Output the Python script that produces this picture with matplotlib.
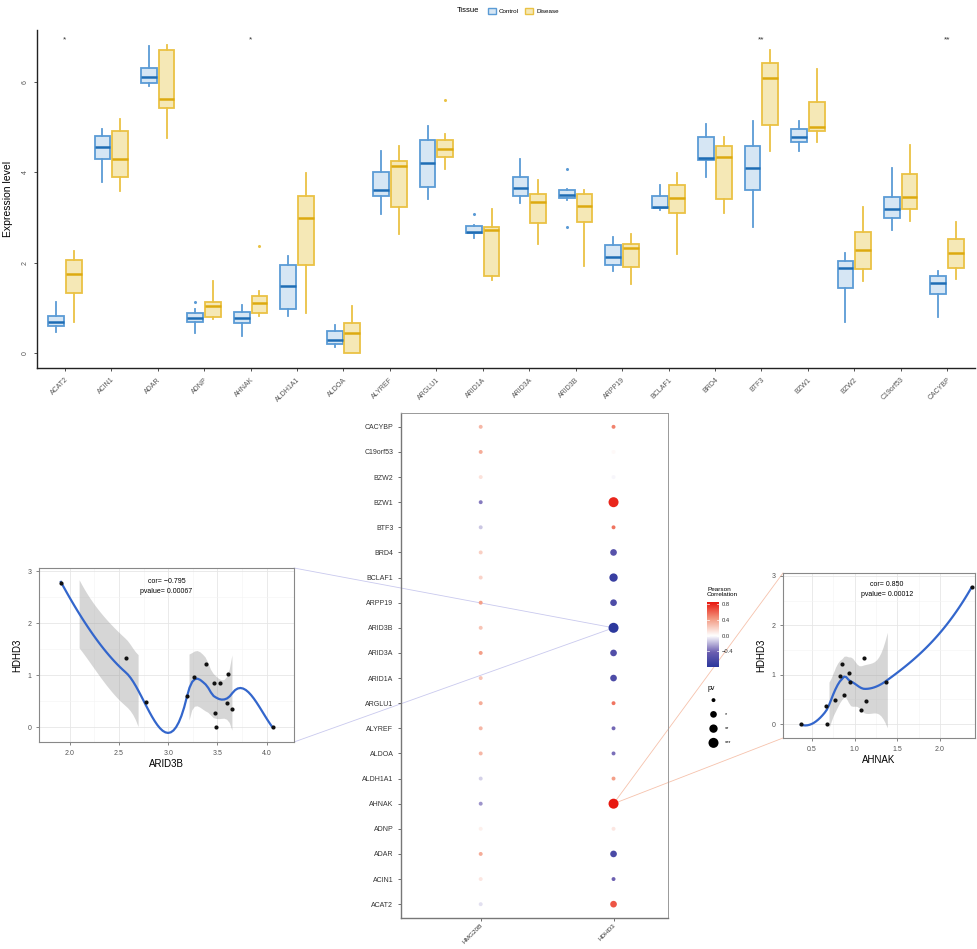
#%%
# boxplot + correlation dot plot + two scatter panels
import numpy as np
import matplotlib
matplotlib.use('Agg')
import matplotlib.pyplot as plt
from matplotlib.colors import LinearSegmentedColormap, Normalize
from matplotlib.patches import Patch, ConnectionPatch

plt.rcParams['font.family'] = ['Liberation Sans', 'DejaVu Sans']

#%%
# data
genes = ['ACAT2', 'ACIN1', 'ADAR', 'ADNP', 'AHNAK', 'ALDH1A1', 'ALDOA', 'ALYREF',
         'ARGLU1', 'ARID1A', 'ARID3A', 'ARID3B', 'ARPP19', 'BCLAF1', 'BRD4', 'BTF3',
         'BZW1', 'BZW2', 'C19orf53', 'CACYBP']

ctrl_whishi = [1.14, 4.97, 6.80, 0.97, 1.07, 2.15, 0.63, 4.47, 5.02, 2.83, 4.29, 3.64, 2.56, 3.71, 5.08, 5.13, 5.13, 2.21, 4.09, 1.82]
ctrl_q3 = [0.83, 4.80, 6.30, 0.88, 0.90, 1.96, 0.48, 4.01, 4.71, 2.82, 3.90, 3.60, 2.39, 3.47, 4.79, 4.58, 4.95, 2.04, 3.45, 1.71]
ctrl_med = [0.69, 4.57, 6.12, 0.78, 0.78, 1.48, 0.29, 3.61, 4.21, 2.69, 3.65, 3.50, 2.12, 3.23, 4.32, 4.10, 4.78, 1.89, 3.19, 1.54]
ctrl_q1 = [0.61, 4.29, 5.98, 0.69, 0.66, 0.97, 0.21, 3.48, 3.67, 2.66, 3.47, 3.44, 1.96, 3.20, 4.27, 3.61, 4.68, 1.45, 2.98, 1.31]
ctrl_whislo = [0.47, 3.79, 5.90, 0.45, 0.38, 0.83, 0.14, 3.07, 3.42, 2.55, 3.33, 3.39, 1.82, 3.17, 3.90, 2.80, 4.48, 0.69, 2.73, 0.80]
ctrl_fliers = {'ADNP': [1.14], 'ARID1A': [3.08], 'ARID3B': [4.07, 2.78]}

dis_whishi = [2.26, 5.17, 6.82, 1.60, 1.37, 3.98, 1.04, 4.58, 4.84, 3.18, 3.83, 3.61, 2.63, 3.99, 4.78, 6.71, 6.28, 3.23, 4.60, 2.90]
dis_q3 = [2.05, 4.91, 6.71, 1.14, 1.26, 3.47, 0.67, 4.24, 4.71, 2.80, 3.51, 3.53, 2.42, 3.73, 4.58, 6.41, 5.56, 2.69, 3.97, 2.52]
dis_med = [1.76, 4.29, 5.63, 1.04, 1.11, 2.98, 0.44, 4.15, 4.52, 2.72, 3.34, 3.26, 2.32, 3.43, 4.33, 6.09, 5.00, 2.28, 3.46, 2.21]
dis_q1 = [1.34, 3.90, 5.42, 0.80, 0.89, 1.96, 0.01, 3.24, 4.35, 1.71, 2.87, 2.89, 1.90, 3.09, 3.42, 5.05, 4.91, 1.86, 3.18, 1.88]
dis_whislo = [0.69, 3.58, 4.75, 0.76, 0.83, 0.89, 0.00, 2.63, 4.07, 1.61, 2.42, 1.92, 1.52, 2.19, 3.11, 4.48, 4.68, 1.60, 2.92, 1.64]
dis_fliers = {'AHNAK': [2.37], 'ARGLU1': [5.60]}

sig = ['*', '', '', '', '*', '', '', '', '', '', '', '', '', '', '', '**', '', '', '', '**']

# pearson correlation with HMG20B / HDHD3 (same gene order, bottom to top)
cor_hmg20b = [-0.08, 0.10, 0.35, 0.06, -0.28, -0.12, 0.30, 0.30, 0.35, 0.25, 0.40, 0.25, 0.40, 0.18, 0.20, -0.15, -0.35, 0.12, 0.35, 0.30]
cor_hdhd3 = [0.65, -0.42, -0.62, 0.10, 0.850, 0.40, -0.38, -0.40, 0.55, -0.60, -0.58, -0.795, -0.60, -0.72, -0.55, 0.55, 0.80, -0.02, 0.02, 0.50]
pv_hmg20b = [0] * 20
pv_hdhd3 = [1, 0, 1, 0, 3, 0, 0, 0, 0, 1, 1, 3, 1, 2, 1, 0, 3, 0, 0, 0]
pv_labels = ['', '*', '**', '***']
dot_cols = ['HMG20B', 'HDHD3']

# scatter data
hdhd3 = [2.77, 1.335, 0.49, 0.60, 0.965, 1.22, 0.856, 0.856, 1.03, 0.47, 0.36, 0.28, 0.0, 0.0]
arid3b = [1.91, 2.57, 2.77, 3.19, 3.26, 3.38, 3.46, 3.53, 3.61, 3.60, 3.65, 3.47, 3.48, 4.06]
ahnak = [2.37, 1.115, 0.77, 0.88, 0.825, 0.85, 0.93, 0.95, 1.13, 0.66, 1.07, 1.365, 0.37, 0.676]
# HDHD3 matching ahnak order
hdhd3_b = [2.77, 1.34, 0.49, 0.60, 0.97, 1.22, 1.03, 0.86, 0.46, 0.36, 0.28, 0.86, 0.0, 0.0]
cor_text = ['cor= \u22120.795\npvalue= 0.00067', 'cor= 0.850\npvalue= 0.00012']
ylim_smooth = (-0.13, 2.91)

#%%
W, H = 977, 949
fig = plt.figure(figsize=(W / 100, H / 100), dpi=100)


def fbox(l, t, r, b):
    return [l / W, 1 - b / H, (r - l) / W, (b - t) / H]


c_edge, c_fill, c_med = '#5B9BD5', '#D6E6F4', '#1F6DB5'
d_edge, d_fill, d_med = '#EAC244', '#F5E8B6', '#DDAA10'

#%%
# boxplot
ax = fig.add_axes(fbox(37, 30, 975, 368))
x = np.arange(1, len(genes) + 1)


def make_stats(lo, q1, med, q3, hi, fl):
    out = []
    for i, g in enumerate(genes):
        out.append(dict(whislo=lo[i], q1=q1[i], med=med[i], q3=q3[i], whishi=hi[i],
                        fliers=fl.get(g, [])))
    return out


for stats, off, ec, fc, mc in [
        (make_stats(ctrl_whislo, ctrl_q1, ctrl_med, ctrl_q3, ctrl_whishi, ctrl_fliers), -0.19, c_edge, c_fill, c_med),
        (make_stats(dis_whislo, dis_q1, dis_med, dis_q3, dis_whishi, dis_fliers), 0.19, d_edge, d_fill, d_med)]:
    ax.bxp(stats, positions=x + off, widths=0.34, patch_artist=True, showcaps=False,
           boxprops=dict(facecolor=fc, edgecolor=ec, linewidth=1.3),
           whiskerprops=dict(color=ec, linewidth=1.3),
           medianprops=dict(color=mc, linewidth=1.8),
           flierprops=dict(marker='o', markersize=1.2, markerfacecolor=ec, markeredgecolor=ec))

for xi, s in zip(x, sig):
    if s:
        ax.text(xi, 6.93, s, ha='center', va='center', fontsize=6, color='#333333')

ax.set_xlim(0.4, len(genes) + 0.6)
ax.set_ylim(-0.33, 7.15)
ax.set_xticks(x)
ax.set_xticklabels(genes, rotation=45, ha='right', rotation_mode='anchor', fontsize=5, color='#555555')
ax.set_yticks([0, 2, 4, 6])
ax.set_yticklabels(['0', '2', '4', '6'], rotation=90, va='center', fontsize=5, color='#555555')
ax.set_ylabel('Expression level', fontsize=7.5, labelpad=6)
ax.tick_params(length=2.5, width=0.6, colors='#333333', labelcolor='#555555')
for sp in ['top', 'right']:
    ax.spines[sp].set_visible(False)
for sp in ['left', 'bottom']:
    ax.spines[sp].set_linewidth(1.0)
    ax.spines[sp].set_color('#222222')

fig.text(457 / W, 1 - 11 / H, 'Tissue', fontsize=5.5, va='center', ha='left')
fig.legend(handles=[Patch(facecolor=c_fill, edgecolor=c_edge, label='Control'),
                    Patch(facecolor=d_fill, edgecolor=d_edge, label='Disease')],
           loc='center left', bbox_to_anchor=(482 / W, 1 - 11 / H), ncol=2, frameon=False,
           fontsize=4.5, handlelength=1.3, handleheight=1.2, columnspacing=1.0, handletextpad=0.5)

#%%
# correlation dot plot
cmap = LinearSegmentedColormap.from_list('rb', [(0, '#23329A'), (0.25, '#6C5FB1'), (0.5, '#FFFFFF'),
                                                (0.75, '#F39A82'), (1, '#E8180F')])
norm = Normalize(-0.85, 0.85)
sizes = np.array([8, 23, 36, 52])

axm = fig.add_axes(fbox(401, 413, 668, 918))
axm.set_facecolor('none')
yy = np.arange(len(genes))
for j, (cv, pv) in enumerate([(cor_hmg20b, pv_hmg20b), (cor_hdhd3, pv_hdhd3)]):
    axm.scatter(np.full(len(genes), j), yy, c=cv, s=sizes[np.array(pv)], cmap=cmap, norm=norm,
                linewidths=0, zorder=3)
axm.set_xlim(-0.6, 1.41)
axm.set_ylim(-0.55, len(genes) - 0.45)
axm.set_xticks([0, 1])
axm.set_xticklabels(dot_cols, rotation=45, ha='right', rotation_mode='anchor', fontsize=4.6, color='#333333')
axm.set_yticks(yy)
axm.set_yticklabels(genes, fontsize=5, color='#333333')
axm.tick_params(length=2, width=0.6, colors='#555555', labelcolor='#333333')
axm.tick_params(axis='x', pad=1.5)
for sp in ['left', 'bottom']:
    axm.spines[sp].set_color('#777777')
    axm.spines[sp].set_linewidth(1.0)
for sp in ['top', 'right']:
    axm.spines[sp].set_color('#999999')
    axm.spines[sp].set_linewidth(0.7)

# colourbar
axc = fig.add_axes(fbox(707, 602, 719, 667))
grad = np.linspace(-0.795, 0.85, 200).reshape(-1, 1)
axc.imshow(grad, cmap=cmap, norm=norm, aspect='auto', origin='lower', extent=(0, 1, -0.795, 0.85))
axc.set_xticks([])
axc.yaxis.tick_right()
axc.set_yticks([-0.4, 0.0, 0.4, 0.8])
axc.set_yticklabels(['\u22120.4', '0.0', '0.4', '0.8'], fontsize=4.2, color='#333333')
axc.tick_params(axis='y', length=0, pad=2)
for v in [-0.4, 0.0, 0.4, 0.8]:
    axc.plot([0, 0.2], [v, v], color='white', lw=0.5)
    axc.plot([0.8, 1], [v, v], color='white', lw=0.5)
for sp in axc.spines.values():
    sp.set_visible(False)
fig.text(707 / W, 1 - 597 / H, 'Pearson\nCorrelation', fontsize=4.6, ha='left', va='bottom', linespacing=1.1)

# pv legend
axp = fig.add_axes(fbox(700, 693, 745, 750))
axp.scatter(np.full(4, 0.3), np.arange(4), s=sizes, color='black', linewidths=0)
for i, lab in enumerate(pv_labels):
    axp.text(0.55, i, lab, fontsize=4, va='center', ha='left')
axp.set_xlim(0, 1)
axp.set_ylim(3.5, -0.5)
axp.axis('off')
fig.text(708 / W, 1 - 688 / H, 'pv', fontsize=5, ha='left', va='center')

#%%
# scatter panels with loess smooth (local quadratic, kd-tree vertices + cubic hermite, like R loess)


def loess(xv, yv, grid, span=0.75, cell=0.2):
    n = len(xv)
    q = int(np.floor(n * span))
    fc = int(np.floor(n * span * cell))
    xs = np.sort(xv)
    mu = 0.005 * (xs[-1] - xs[0])
    verts = {xs[0] - mu, xs[-1] + mu}

    # split cells at the median point (1-based m = (l+u)/2)
    def split(l, u):
        if u - l + 1 <= fc:
            return
        m = (l + u + 2) // 2 - 1
        verts.add(xs[m])
        split(l, m)
        split(m + 1, u)

    split(0, n - 1)
    V = np.array(sorted(verts))

    def op(x0):
        d = np.abs(xv - x0)
        h = np.sort(d)[q - 1]
        w = np.clip(1 - (d / h) ** 3, 0, None) ** 3
        X = np.vstack([np.ones(n), xv - x0, (xv - x0) ** 2]).T
        A = X.T @ (w[:, None] * X)
        B = np.linalg.solve(A, X.T * w)
        return B[0], B[1]

    ops = [op(v) for v in V]

    def rows(pts):
        out = []
        for g in pts:
            k = min(max(np.searchsorted(V, g) - 1, 0), len(V) - 2)
            hc = V[k + 1] - V[k]
            t = (g - V[k]) / hc
            h00 = 2 * t ** 3 - 3 * t ** 2 + 1
            h10 = t ** 3 - 2 * t ** 2 + t
            h01 = -2 * t ** 3 + 3 * t ** 2
            h11 = t ** 3 - t ** 2
            out.append(h00 * ops[k][0] + h10 * hc * ops[k][1] + h01 * ops[k + 1][0] + h11 * hc * ops[k + 1][1])
        return np.array(out)

    Lg = rows(grid)
    Ld = rows(xv)
    R = np.eye(n) - Ld
    d1 = np.trace(R.T @ R)
    sigma = np.sqrt(np.sum((R @ yv) ** 2) / d1)
    fit = Lg @ yv
    se = sigma * np.sqrt(np.sum(Lg ** 2, axis=1))
    return fit, se


def scatter_panel(box, xv, yv, xlab, xt, xlim, txt):
    a = fig.add_axes(box)
    xv, yv = np.array(xv), np.array(yv)
    grid = np.linspace(xv.min(), xv.max(), 80)
    fit, se = loess(xv, yv, grid)
    lo, hi = fit - 2.3 * se, fit + 2.3 * se
    ok = (lo >= ylim_smooth[0]) & (hi <= ylim_smooth[1])
    a.fill_between(grid, lo, hi, where=ok, color='#999999', alpha=0.4, linewidth=0, zorder=2)
    a.plot(grid, fit, color='#3366CC', lw=1.6, zorder=3)
    a.scatter(xv, yv, s=9, color='#111111', zorder=4, linewidths=0)
    a.set_xlim(*xlim)
    a.set_ylim(-0.28, 3.06)
    a.set_xticks(xt)
    a.set_xticks(np.array(xt[:-1]) + 0.25, minor=True)
    a.set_yticks([0, 1, 2, 3])
    a.set_yticks([0.5, 1.5, 2.5], minor=True)
    a.grid(which='major', color='#E6E6E6', lw=0.6, zorder=0)
    a.grid(which='minor', color='#F3F3F3', lw=0.4, zorder=0)
    a.set_axisbelow(True)
    a.tick_params(which='major', length=2, width=0.5, colors='#555555', labelsize=5, labelcolor='#555555')
    a.tick_params(which='minor', length=0)
    for sp in a.spines.values():
        sp.set_color('#888888')
        sp.set_linewidth(0.8)
    a.set_xlabel(xlab, fontsize=7, labelpad=2)
    a.set_ylabel('HDHD3', fontsize=7, labelpad=4)
    a.text(txt[0], txt[1], txt[2], transform=a.transAxes, ha='center', va='top', fontsize=5, linespacing=1.6)
    return a


axl = scatter_panel(fbox(39, 568, 294, 742), arid3b, hdhd3, 'ARID3B', [2.0, 2.5, 3.0, 3.5, 4.0],
                    (1.688, 4.277), (0.5, 0.945, cor_text[0]))
axr = scatter_panel(fbox(783, 573, 975, 738), ahnak, hdhd3_b, 'AHNAK', [0.5, 1.0, 1.5, 2.0],
                    (0.16, 2.41), (0.54, 0.95, cor_text[1]))

# zoom lines from dot plot to scatter panels
i_arid = genes.index('ARID3B')
i_ahn = genes.index('AHNAK')
for corner in [(1, 1), (1, 0)]:
    fig.add_artist(ConnectionPatch(xyA=(1, i_arid), coordsA=axm.transData, xyB=corner,
                                   coordsB=axl.transAxes, color='#C9C9EE', lw=0.6, zorder=-1))
for corner in [(0, 1), (0, 0)]:
    fig.add_artist(ConnectionPatch(xyA=(1, i_ahn), coordsA=axm.transData, xyB=corner,
                                   coordsB=axr.transAxes, color='#F6C2AC', lw=0.6, zorder=-1))

fig.savefig('out.png', dpi=100)
